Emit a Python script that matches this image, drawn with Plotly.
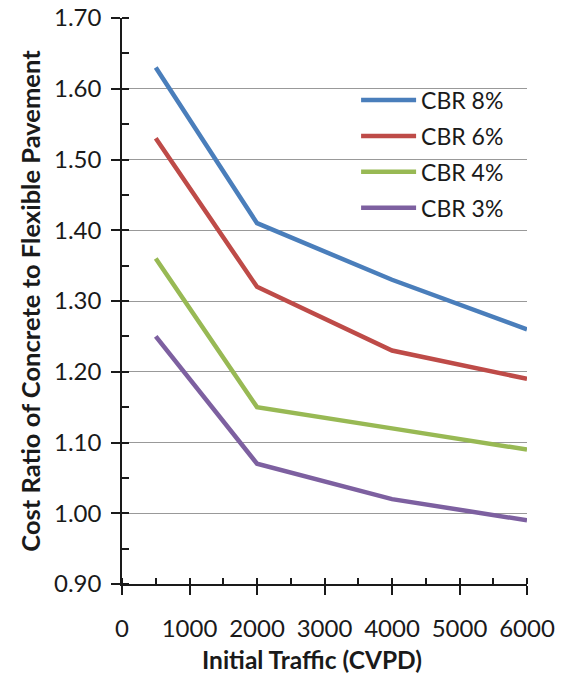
import plotly.graph_objects as go

traffic = [500, 2000, 4000, 6000]
cbr8 = [1.63, 1.41, 1.33, 1.26]
cbr6 = [1.53, 1.32, 1.23, 1.19]
cbr4 = [1.36, 1.15, 1.12, 1.09]
cbr3 = [1.25, 1.07, 1.02, 0.99]
names = ["CBR 8%", "CBR 6%", "CBR 4%", "CBR 3%"]
colors = ["#4A7EBB", "#BE4B48", "#98B954", "#7D60A0"]
series = [cbr8, cbr6, cbr4, cbr3]

FONT = "Lato, 'Open Sans', sans-serif"
TICK = 23

fig = go.Figure()
for n, c, s in zip(names, colors, series):
    fig.add_trace(go.Scatter(x=traffic, y=s, mode="lines", name=n, legendgroup=n,
                             line=dict(color=c, width=4.5)))

# invisible trace on overlay axis for inside (crossing) x ticks
fig.add_trace(go.Scatter(x=[0, 6000], y=[0.9, 0.9], xaxis="x2", mode="lines",
                         line=dict(width=0), showlegend=False, hoverinfo="skip"))

fig.update_layout(
    width=565, height=674,
    margin=dict(l=122, r=38, t=18, b=90, autoexpand=False),
    paper_bgcolor="white", plot_bgcolor="white",
    font=dict(family=FONT, size=TICK, color="#1a1a1a"),
    showlegend=True,
    legend=dict(x=0.578, y=0.893, xanchor="left", yanchor="top",
                bgcolor="rgba(0,0,0,0)", font=dict(size=TICK), tracegroupgap=3,
                itemwidth=55),
    xaxis=dict(range=[0, 6000], dtick=1000, tick0=0, automargin=False,
               showline=True, linecolor="#1a1a1a", linewidth=1.5,
               ticks="outside", ticklen=9, tickcolor="#1a1a1a", tickwidth=1.5,
               ticklabelstandoff=13, tickfont=dict(size=24),
               minor=dict(dtick=500, ticks="inside", ticklen=6, tickcolor="#1a1a1a", tickwidth=1.5),
               showgrid=False, zeroline=False),
    xaxis2=dict(range=[0, 6000], overlaying="x", anchor="y", dtick=1000, tick0=0,
                ticks="inside", ticklen=6, tickcolor="#1a1a1a", tickwidth=1.5,
                showticklabels=False, showgrid=False, zeroline=False, showline=False),
    yaxis=dict(range=[0.9, 1.7], dtick=0.1, tick0=0.9, tickformat=".2f", automargin=False,
               showline=True, linecolor="#1a1a1a", linewidth=1.5,
               ticks="outside", ticklen=9, tickcolor="#1a1a1a", tickwidth=1.5,
               ticklabelstandoff=5, tickfont=dict(size=24),
               minor=dict(dtick=0.05, ticks="inside", ticklen=7, tickcolor="#1a1a1a", tickwidth=1.5, showgrid=False),
               showgrid=True, gridcolor="#999999", gridwidth=1.2, zeroline=False),
    annotations=[
        dict(text="<b>Initial Traffic (CVPD)</b>", xref="paper", yref="paper",
             x=0.47, y=-0.133, xanchor="center", yanchor="middle", showarrow=False,
             font=dict(size=24.5)),
        dict(text="<b>Cost Ratio of Concrete to Flexible Pavement</b>", xref="paper", yref="paper",
             x=-0.228, y=0.5, xanchor="center", yanchor="middle", showarrow=False,
             textangle=-90, font=dict(size=25.5)),
    ],
)

fig.write_html("out.html", config={"displayModeBar": False},
               post_script="document.body.style.margin='0';")
